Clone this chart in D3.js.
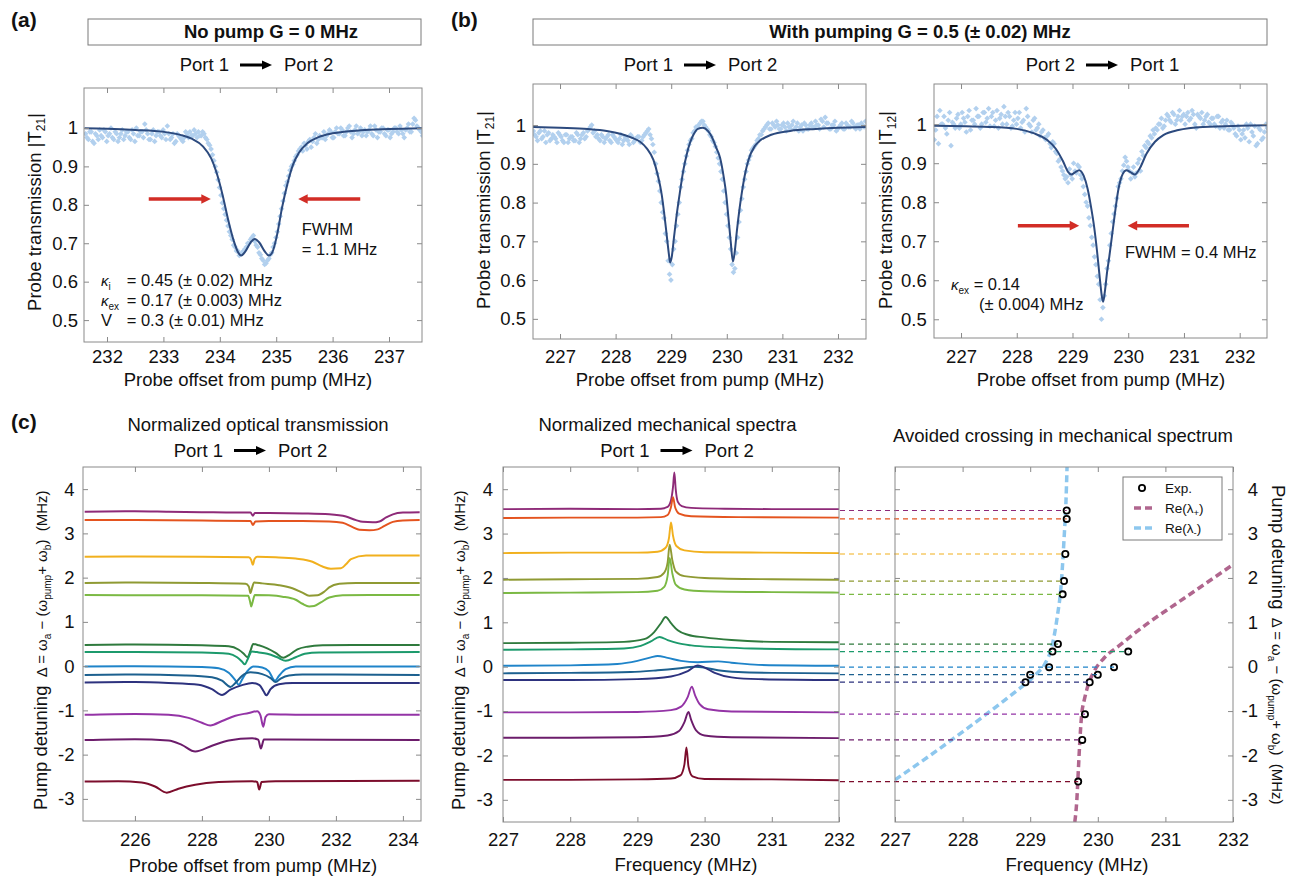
<!DOCTYPE html>
<html><head><meta charset="utf-8">
<script src="https://cdn.jsdelivr.net/npm/d3@7"></script>
<style>body{margin:0;background:#fff}</style>
</head><body><svg id="c" width="1305" height="878" style="background:#fff"></svg>
<script>
// ---------------- DATA ----------------
// (a) no pump
const fitAX = [231.6,232.0,232.5,233.0,233.3,233.5,233.7,233.85,233.95,234.05,234.15,234.25,234.33,234.38,234.45,234.55,234.62,234.70,234.80,234.87,234.93,235.02,235.10,235.20,235.30,235.40,235.55,235.75,236.0,236.5,237.0,237.6];
const fitAY = [0.999,0.998,0.995,0.99,0.982,0.972,0.952,0.92,0.88,0.825,0.76,0.705,0.675,0.668,0.678,0.703,0.711,0.702,0.678,0.668,0.676,0.725,0.79,0.855,0.905,0.935,0.96,0.976,0.986,0.994,0.997,0.999];
const scatStep = 0.05;
const scatAStart = 231.62, scatAStart2 = 231.645;
const scatAY = [0.985,0.97,0.99,0.96,0.98,0.995,0.975,0.99,0.98,1.0,
 0.97,0.985,0.975,0.995,0.98,0.99,0.97,0.985,1.0,0.98,
 0.99,1.01,0.985,0.97,0.995,0.98,0.99,0.975,0.985,1.005,
 0.97,0.985,0.965,0.98,0.97,0.975,0.985,0.99,0.98,0.985,
 0.99,0.98,0.985,0.97,0.955,0.93,0.90,0.865,0.825,0.79,
 0.76,0.73,0.71,0.69,0.68,0.672,0.68,0.69,0.70,0.715,
 0.705,0.69,0.67,0.655,0.648,0.66,0.675,0.70,0.73,0.77,
 0.81,0.85,0.875,0.90,0.915,0.93,0.945,0.94,0.955,0.965,
 0.95,0.975,0.96,0.98,0.975,0.97,0.985,0.99,0.975,1.0,
 0.985,0.995,0.98,1.0,0.99,0.985,1.005,0.99,0.98,0.995,
 0.99,1.005,0.98,0.995,0.99,1.0,0.985,0.995,0.975,0.99,
 1.0,0.985,0.995,0.975,1.0,0.99,1.01,1.02,1.0,0.99];
const scatAY2 = [0.975,0.99,0.965,0.985,0.97,0.98,0.995,0.965,0.985,0.975,
 0.99,0.965,0.985,0.97,0.99,0.975,0.995,0.965,0.98,0.99,
 0.975,0.995,0.97,0.985,0.965,0.99,0.98,0.995,0.97,0.985,
 0.975,0.96,0.985,0.975,0.965,0.99,0.975,0.98,0.995,0.975,
 0.98,0.99,0.975,0.96,0.945,0.915,0.885,0.845,0.805,0.775,
 0.745,0.72,0.695,0.68,0.668,0.675,0.685,0.70,0.71,0.72,
 0.695,0.675,0.66,0.645,0.655,0.67,0.69,0.715,0.75,0.79,
 0.83,0.86,0.89,0.905,0.925,0.94,0.95,0.96,0.945,0.97,
 0.965,0.985,0.97,0.975,0.99,0.98,0.995,0.975,0.99,0.985,
 1.0,0.98,0.99,1.005,0.975,0.995,0.985,1.0,0.99,0.98,
 0.995,0.985,1.005,0.975,0.99,1.0,0.98,0.995,0.985,1.0,
 0.99,1.005,0.985,0.995,1.01,0.99,1.025,1.005,0.995,0.98];
const arrowsA = [[232.74,233.84,0.815],[236.49,235.39,0.815]];

// (b) with pumping, Port1->Port2
const fitB1X = [226.5,227.0,227.5,227.84,228.1,228.3,228.44,228.56,228.68,228.76,228.83,228.88,228.92,228.96,228.98,229.01,229.05,229.1,229.16,229.22,229.28,229.34,229.40,229.48,229.57,229.66,229.73,229.8,229.88,229.94,229.99,230.03,230.07,230.11,230.14,230.18,230.23,230.27,230.33,230.39,230.5,230.6,230.8,231.14,231.6,232.0,232.5];
const fitB1Y = [0.995,0.993,0.99,0.985,0.977,0.967,0.957,0.94,0.91,0.87,0.82,0.765,0.715,0.665,0.645,0.66,0.71,0.77,0.83,0.885,0.925,0.955,0.975,0.99,0.993,0.985,0.97,0.945,0.915,0.87,0.82,0.76,0.70,0.648,0.67,0.725,0.785,0.825,0.875,0.91,0.945,0.96,0.975,0.985,0.99,0.993,0.995];
const scatBStart = 226.52, scatBStart2 = 226.545;
const scatB1Y = [0.985,0.97,0.98,0.965,0.985,0.975,0.96,0.975,0.965,0.98,
 0.97,0.955,0.975,0.965,0.97,0.96,0.975,0.965,0.98,0.97,
 0.99,1.0,0.985,0.975,0.96,0.97,0.965,0.975,0.955,0.97,
 0.96,0.965,0.95,0.97,0.96,0.975,0.955,0.965,0.97,0.96,
 0.975,0.985,0.975,0.95,0.90,0.855,0.80,0.76,0.70,0.615,
 0.64,0.70,0.77,0.84,0.88,0.92,0.95,0.965,0.985,0.995,
 1.005,1.01,0.995,0.985,0.97,0.955,0.93,0.90,0.86,0.80,
 0.74,0.68,0.62,0.67,0.75,0.81,0.86,0.90,0.92,0.94,
 0.95,0.965,0.975,0.99,1.0,0.99,1.005,0.995,1.0,0.99,
 1.005,0.985,0.995,1.0,0.99,1.005,0.995,0.985,1.0,0.99,
 1.005,0.995,1.0,0.99,1.01,1.02,1.005,0.99,1.0,0.985,
 0.995,1.005,0.99,1.0,0.995,1.005,0.99,1.0,1.005,0.995];
const scatB1Y2 = [0.975,0.96,0.985,0.97,0.955,0.98,0.965,0.97,0.955,0.975,
 0.96,0.975,0.955,0.97,0.96,0.98,0.955,0.975,0.965,0.985,
 0.995,0.98,0.97,0.965,0.975,0.955,0.97,0.96,0.975,0.965,
 0.955,0.975,0.96,0.965,0.95,0.97,0.96,0.97,0.955,0.97,
 0.98,0.99,0.965,0.93,0.875,0.83,0.775,0.72,0.65,0.60,
 0.68,0.74,0.80,0.86,0.90,0.935,0.96,0.98,0.995,1.0,
 1.01,1.0,0.99,0.975,0.96,0.945,0.915,0.88,0.83,0.77,
 0.71,0.64,0.63,0.71,0.78,0.84,0.88,0.91,0.935,0.945,
 0.96,0.975,0.985,0.995,1.005,0.99,1.0,1.01,0.99,1.0,
 0.995,1.005,0.99,1.01,0.995,0.985,1.0,1.005,0.99,1.0,
 0.995,1.01,1.0,1.015,0.995,1.005,0.99,1.0,1.01,0.99,
 1.0,0.99,1.005,0.995,1.01,0.995,1.0,0.99,1.0,1.01];

// (b) with pumping, Port2->Port1
const fitB2X = [226.5,227.5,228.0,228.3,228.54,228.7,228.83,228.92,228.98,229.04,229.12,229.2,229.27,229.33,229.39,229.44,229.49,229.53,229.55,229.58,229.62,229.66,229.71,229.76,229.82,229.9,229.97,230.04,230.12,230.2,230.33,230.48,230.63,230.9,231.35,232.0,232.5];
const fitB2Y = [0.996,0.993,0.988,0.977,0.96,0.937,0.905,0.878,0.871,0.876,0.882,0.868,0.835,0.79,0.735,0.675,0.605,0.556,0.545,0.57,0.62,0.66,0.715,0.77,0.83,0.872,0.882,0.877,0.871,0.885,0.925,0.955,0.972,0.985,0.993,0.996,0.997];
const scatB2Y = [0.96,1.02,1.035,1.0,0.99,1.01,0.945,1.0,1.015,0.99,
 1.03,1.005,1.02,0.985,1.01,1.04,1.02,1.0,1.03,1.015,
 0.995,1.03,1.01,0.99,1.025,1.045,1.0,1.02,0.995,1.03,
 1.015,0.99,1.01,1.04,1.0,0.98,1.015,0.99,0.97,0.985,
 0.96,0.975,0.94,0.95,0.925,0.91,0.88,0.86,0.85,0.87,
 0.90,0.875,0.89,0.86,0.82,0.79,0.74,0.69,0.64,0.59,
 0.50,0.56,0.63,0.69,0.75,0.79,0.84,0.86,0.895,0.905,
 0.88,0.875,0.865,0.90,0.88,0.92,0.94,0.95,0.965,0.975,
 0.985,1.0,0.99,1.01,1.02,1.005,1.025,1.01,1.035,1.02,
 1.0,1.03,1.015,1.025,0.99,1.02,1.03,1.01,1.025,1.0,
 1.015,0.995,1.02,1.005,0.99,1.01,0.985,1.0,0.975,0.995,
 0.96,0.985,1.0,0.955,0.98,0.995,0.95,0.985,0.965,1.0];
const scatB2Y2 = [0.985,0.95,1.0,1.02,0.975,1.03,1.005,0.99,1.025,1.0,
 1.015,0.98,1.035,1.01,1.0,1.02,0.99,1.03,1.005,1.04,
 1.02,0.995,1.035,1.015,1.0,1.02,1.03,0.99,1.01,1.0,
 1.03,1.005,0.98,1.02,0.995,1.01,0.985,1.0,0.98,0.965,
 0.97,0.95,0.955,0.93,0.905,0.89,0.87,0.865,0.885,0.86,
 0.88,0.895,0.87,0.84,0.80,0.76,0.71,0.66,0.61,0.55,
 0.53,0.59,0.65,0.72,0.77,0.81,0.85,0.88,0.915,0.89,
 0.86,0.89,0.875,0.91,0.93,0.945,0.955,0.97,0.985,0.99,
 1.0,1.015,0.995,1.025,1.01,1.03,1.0,1.02,1.01,1.025,
 1.02,1.01,1.035,1.0,1.025,1.015,1.0,1.02,1.005,1.015,
 1.0,1.02,0.99,1.01,1.0,0.985,1.005,0.99,0.97,0.985,
 0.975,0.965,0.99,1.0,0.97,0.945,0.99,0.96,0.98,0.99];
const arrowsB2 = [[228.02,229.12,0.74],[231.09,229.99,0.74]];

// (c) traces, one colour per pump detuning (top to bottom)
const traceColors = ['#8e2a78','#e4541f','#f1b01d','#8f9a33','#7bb944','#2f7a3d','#1c9a6c','#1f84c9','#1c608f','#2d327e','#9434a6','#6c1c6b','#7c0d2c'];
const opticalTraces = [
 [[224.5,3.49],[226,3.50],[227,3.49],[228,3.48],[229,3.47],[229.45,3.47],[229.52,3.40],[229.58,3.46],[230,3.46],[231,3.45],[231.8,3.43],[232.3,3.38],[232.6,3.30],[232.8,3.26],[233.1,3.25],[233.3,3.27],[233.5,3.36],[233.7,3.43],[234,3.47],[234.5,3.48]],
 [[224.5,3.30],[226,3.30],[228,3.29],[229.45,3.28],[229.52,3.19],[229.6,3.27],[230,3.28],[231,3.28],[231.8,3.27],[232.2,3.24],[232.5,3.14],[232.7,3.08],[233.0,3.07],[233.25,3.09],[233.45,3.17],[233.7,3.26],[234.0,3.29],[234.5,3.30]],
 [[224.5,2.47],[226,2.48],[228,2.47],[229.4,2.46],[229.47,2.40],[229.52,2.29],[229.57,2.42],[229.65,2.47],[230.2,2.46],[230.8,2.43],[231.3,2.36],[231.6,2.25],[231.85,2.20],[232.15,2.21],[232.3,2.30],[232.45,2.42],[232.9,2.50],[234.5,2.50]],
 [[224.5,1.88],[226,1.89],[228,1.88],[229.3,1.86],[229.4,1.80],[229.45,1.65],[229.5,1.78],[229.56,1.89],[229.8,1.87],[230.3,1.83],[230.7,1.76],[231.0,1.66],[231.2,1.59],[231.45,1.60],[231.65,1.68],[231.8,1.78],[232.1,1.86],[232.6,1.88],[234.5,1.88]],
 [[224.5,1.61],[226,1.60],[228,1.60],[229.38,1.59],[229.44,1.45],[229.47,1.35],[229.52,1.47],[229.58,1.61],[230,1.60],[230.4,1.57],[230.8,1.50],[231.0,1.41],[231.2,1.35],[231.35,1.36],[231.55,1.44],[231.8,1.55],[232.2,1.60],[233,1.61],[234.5,1.61]],
 [[224.5,0.48],[226,0.49],[228,0.47],[228.8,0.45],[229.1,0.37],[229.25,0.28],[229.36,0.20],[229.45,0.35],[229.53,0.50],[229.7,0.47],[229.95,0.40],[230.2,0.30],[230.43,0.19],[230.6,0.25],[230.85,0.38],[231.15,0.44],[231.6,0.47],[232.5,0.48],[234.5,0.48]],
 [[224.5,0.32],[226,0.32],[228,0.31],[228.8,0.28],[229.05,0.20],[229.2,0.10],[229.28,0.04],[229.38,0.18],[229.49,0.33],[229.7,0.31],[229.95,0.28],[230.25,0.20],[230.5,0.12],[230.8,0.20],[231.07,0.28],[231.5,0.31],[234.5,0.32]],
 [[224.5,-0.01],[226,0.0],[228,-0.02],[228.5,-0.05],[228.8,-0.15],[229.0,-0.32],[229.1,-0.42],[229.2,-0.30],[229.35,-0.12],[229.55,-0.01],[229.8,-0.03],[230.0,-0.12],[230.18,-0.33],[230.3,-0.22],[230.5,-0.07],[230.8,-0.01],[234.5,-0.01]],
 [[224.5,-0.20],[226,-0.19],[227.5,-0.21],[228.3,-0.25],[228.6,-0.33],[228.85,-0.47],[229.0,-0.38],[229.2,-0.22],[229.45,-0.14],[229.8,-0.18],[230.05,-0.27],[230.2,-0.36],[230.35,-0.28],[230.6,-0.21],[231,-0.19],[234.5,-0.20]],
 [[224.5,-0.37],[226,-0.36],[227,-0.38],[227.9,-0.42],[228.3,-0.52],[228.6,-0.65],[228.85,-0.53],[229.2,-0.43],[229.5,-0.38],[229.72,-0.43],[229.85,-0.58],[229.92,-0.66],[230.05,-0.52],[230.3,-0.41],[230.7,-0.38],[234.5,-0.38]],
 [[224.5,-1.10],[226,-1.08],[227,-1.10],[227.6,-1.17],[228.0,-1.28],[228.25,-1.34],[228.6,-1.24],[229.0,-1.12],[229.4,-1.06],[229.65,-1.02],[229.75,-1.12],[229.83,-1.37],[229.9,-1.15],[230.0,-1.09],[231,-1.10],[234.5,-1.10]],
 [[224.5,-1.67],[226,-1.65],[227,-1.68],[227.4,-1.78],[227.8,-1.93],[228.3,-1.80],[228.8,-1.68],[229.5,-1.63],[229.68,-1.66],[229.76,-1.86],[229.85,-1.66],[230.2,-1.66],[234.5,-1.67]],
 [[224.5,-2.61],[225.5,-2.60],[226.2,-2.63],[226.6,-2.72],[226.95,-2.86],[227.3,-2.77],[227.8,-2.68],[228.5,-2.62],[229.5,-2.60],[229.65,-2.62],[229.71,-2.79],[229.78,-2.62],[230.2,-2.60],[234.5,-2.59]]
];
const mechTraces = [
 [[227,3.55],[228,3.56],[229,3.55],[229.35,3.56],[229.45,3.6],[229.5,3.75],[229.53,4.05],[229.55,4.38],[229.57,4.0],[229.6,3.72],[229.66,3.62],[229.8,3.58],[230.3,3.56],[231,3.55],[232,3.55]],
 [[227,3.35],[228,3.36],[229,3.36],[229.35,3.37],[229.45,3.42],[229.5,3.6],[229.53,3.82],[229.56,3.6],[229.62,3.45],[229.8,3.39],[230.5,3.37],[232,3.36]],
 [[227,2.56],[228,2.57],[229,2.57],[229.3,2.59],[229.42,2.68],[229.47,2.9],[229.5,3.25],[229.53,2.95],[229.58,2.72],[229.7,2.62],[230,2.58],[231,2.57],[232,2.56]],
 [[227,1.96],[228,1.97],[229,1.98],[229.3,2.02],[229.4,2.12],[229.45,2.35],[229.48,2.75],[229.52,2.4],[229.57,2.15],[229.7,2.04],[230,2.0],[231,1.97],[232,1.96]],
 [[227,1.66],[228,1.67],[229,1.68],[229.3,1.71],[229.4,1.8],[229.45,2.05],[229.48,2.45],[229.52,2.1],[229.57,1.85],[229.7,1.74],[230,1.7],[231,1.68],[232,1.67]],
 [[227,0.53],[228,0.54],[228.8,0.56],[229.1,0.62],[229.25,0.78],[229.35,0.98],[229.42,1.12],[229.5,0.98],[229.6,0.82],[229.75,0.72],[230.0,0.66],[230.4,0.6],[231,0.56],[232,0.55]],
 [[227,0.38],[228,0.39],[228.8,0.41],[229.05,0.47],[229.2,0.57],[229.33,0.67],[229.45,0.6],[229.6,0.53],[229.8,0.48],[230.2,0.44],[230.7,0.41],[232,0.39]],
 [[227,0.02],[228,0.03],[228.7,0.06],[229.0,0.13],[229.2,0.21],[229.3,0.24],[229.45,0.2],[229.65,0.13],[229.9,0.1],[230.2,0.12],[230.4,0.09],[230.8,0.04],[232,0.02]],
 [[227,-0.15],[228,-0.14],[228.9,-0.12],[229.3,-0.08],[229.6,-0.04],[229.85,0.0],[230.0,-0.02],[230.2,-0.08],[230.5,-0.12],[231,-0.14],[232,-0.15]],
 [[227,-0.30],[228,-0.30],[229,-0.28],[229.5,-0.22],[229.75,-0.1],[229.9,0.03],[230.0,-0.02],[230.15,-0.14],[230.4,-0.24],[230.8,-0.28],[232,-0.30]],
 [[227,-1.03],[228,-1.03],[229,-1.02],[229.5,-0.98],[229.65,-0.9],[229.75,-0.68],[229.81,-0.45],[229.86,-0.65],[229.93,-0.85],[230.05,-0.96],[230.4,-1.01],[232,-1.03]],
 [[227,-1.60],[228,-1.60],[229,-1.59],[229.45,-1.55],[229.62,-1.45],[229.7,-1.25],[229.76,-1.02],[229.8,-1.2],[229.87,-1.43],[230,-1.55],[230.4,-1.59],[232,-1.61]],
 [[227,-2.55],[228,-2.55],[229,-2.54],[229.5,-2.52],[229.64,-2.45],[229.7,-2.2],[229.73,-1.82],[229.76,-2.25],[229.82,-2.47],[230,-2.53],[231,-2.54],[232,-2.56]]
];
// avoided crossing: experimental peaks
const expDelta    = [3.52,3.33,2.54,1.93,1.63,0.51,0.34,-0.01,-0.18,-0.35,-1.07,-1.65,-2.59];
const expFreqLow  = [229.54,229.54,229.52,229.50,229.48,229.41,229.33,229.28,229.00,228.93,229.81,229.77,229.71];
const expFreqHigh = [null,null,null,null,null,null,230.45,230.24,230.00,229.88,null,null,null];
const lamPlusF  = [229.66,229.69,229.71,229.73,229.76,229.80,229.84,229.94,230.09,230.33,230.67,231.17,231.6,232.0];
const lamPlusD  = [-3.5,-3.0,-2.4,-1.8,-1.1,-0.75,-0.5,-0.12,0.19,0.49,0.90,1.43,1.88,2.3];
const lamMinusF = [227.0,227.5,228.0,228.36,228.6,228.9,229.1,229.22,229.32,229.40,229.46,229.50,229.53,229.545];
const lamMinusD = [-2.55,-2.02,-1.47,-1.06,-0.78,-0.42,-0.15,0.07,0.45,1.12,1.88,2.86,3.76,4.5];

const ticksA = [232,233,234,235,236,237];
const ticksB = [227,228,229,230,231,232];
const ticksT = [0.5,0.6,0.7,0.8,0.9,1];
const ticksC1 = [226,228,230,232,234];
const ticksC = [227,228,229,230,231,232];
const ticksD = [-3,-2,-1,0,1,2,3,4];

// ---------------- DRAW ----------------
const FONT = '"Liberation Sans", Arial, Helvetica, sans-serif';
const FRAME = '#8a8a8a', TXT = '#111', SCAT = '#b2d0ee', FIT = '#2c4a7e', RED = '#d22d26';
const svg = d3.select('#c');
const defs = svg.append('defs');

function panel(id, xDom, yDom, box) {
  const x = d3.scaleLinear().domain(xDom).range([box.l, box.r]);
  const y = d3.scaleLinear().domain(yDom).range([box.b, box.t]);
  defs.append('clipPath').attr('id', id).append('rect')
    .attr('x', box.l).attr('y', box.t).attr('width', box.r - box.l).attr('height', box.b - box.t);
  const g = svg.append('g').attr('clip-path', `url(#${id})`);
  return {x, y, box, g};
}
function axes(p, xt, yt, o) {
  const {l, r, t, b} = p.box;
  const g = svg.append('g');
  const fmt = d => String(d);
  g.append('g').attr('transform', `translate(0,${b})`)
    .call(d3.axisBottom(p.x).tickValues(xt).tickSize(-5).tickSizeOuter(0).tickPadding(o.xPad).tickFormat(fmt));
  g.append('g').attr('transform', `translate(0,${t})`)
    .call(d3.axisTop(p.x).tickValues(xt).tickSize(-5).tickSizeOuter(0).tickFormat(''));
  g.append('g').attr('transform', `translate(${l},0)`)
    .call(d3.axisLeft(p.y).tickValues(yt).tickSize(-5).tickSizeOuter(0).tickPadding(o.yPad || 6).tickFormat(o.yRight ? '' : fmt));
  const ar = g.append('g').attr('transform', `translate(${r},0)`)
    .call(d3.axisRight(p.y).tickValues(yt).tickSize(-5).tickSizeOuter(0).tickFormat(o.yRight ? fmt : ''));
  g.selectAll('.domain').remove();
  g.selectAll('.tick line').attr('stroke', FRAME);
  g.selectAll('text').attr('font-size', 18.5).attr('font-family', FONT).attr('fill', TXT);
  if (o.yRight) ar.selectAll('text').attr('text-anchor', 'end').attr('x', o.yRightX);
  g.append('rect').attr('x', l).attr('y', t).attr('width', r - l).attr('height', b - t)
    .attr('fill', 'none').attr('stroke', FRAME).attr('stroke-width', 1);
}
function txt(x, y, s, size, opt = {}) {
  return svg.append('text').attr('x', x).attr('y', y).attr('font-size', size)
    .attr('font-family', FONT).attr('fill', opt.fill || TXT)
    .attr('text-anchor', opt.anchor || 'start').attr('font-weight', opt.bold ? 'bold' : null)
    .style('white-space', 'pre').text(s);
}
function rich(x, y, parts, opt = {}) {
  const t = svg.append('text').attr('font-family', FONT).attr('fill', TXT)
    .attr('text-anchor', opt.anchor || 'start').style('white-space', 'pre');
  if (opt.transform) t.attr('transform', opt.transform); else t.attr('x', x).attr('y', y);
  parts.forEach(([s, f, dy, it]) => t.append('tspan').attr('font-size', f).attr('dy', dy || 0)
    .attr('font-style', it ? 'italic' : null).text(s));
  return t;
}
function portLine(cx, y, a, b) {
  txt(cx - 27, y, a, 18.5, {anchor: 'end'});
  txt(cx + 28, y, b, 18.5);
  svg.append('line').attr('x1', cx - 16).attr('x2', cx + 8).attr('y1', y - 6).attr('y2', y - 6)
    .attr('stroke', '#000').attr('stroke-width', 3);
  svg.append('path').attr('d', `M${cx + 6},${y - 10.5}L${cx + 16},${y - 6}L${cx + 6},${y - 1.5}Z`).attr('fill', '#000');
}
function redArrow(p, a) {
  const x1 = p.x(a[0]), x2 = p.x(a[1]), yy = p.y(a[2]);
  const s = Math.sign(x2 - x1);
  svg.append('line').attr('x1', x1).attr('x2', x2 - s * 7).attr('y1', yy).attr('y2', yy)
    .attr('stroke', RED).attr('stroke-width', 3.5);
  svg.append('path').attr('d', `M${x2 - s * 9.5},${yy - 4.8}L${x2},${yy}L${x2 - s * 9.5},${yy + 4.8}Z`).attr('fill', RED);
}
function scatter(p, x0, ys) {
  const sym = d3.symbol(d3.symbolSquare, 16)();
  p.g.append('g').selectAll('path').data(ys).join('path').attr('d', sym)
    .attr('transform', (d, i) => `translate(${p.x(x0 + i * scatStep)},${p.y(d)}) rotate(45)`)
    .attr('fill', SCAT);
}
function fitLine(p, xs, ys) {
  const line = d3.line().x(i => p.x(xs[i])).y(i => p.y(ys[i])).curve(d3.curveMonotoneX);
  p.g.append('path').attr('d', line(d3.range(xs.length))).attr('fill', 'none')
    .attr('stroke', FIT).attr('stroke-width', 2);
}
function transLabel(x, y, sub) {
  rich(0, 0, [['Probe transmission |T', 18.5, 0], [sub, 12, 4], ['|', 18.5, -4]],
    {anchor: 'middle', transform: `translate(${x},${y}) rotate(-90)`});
}
function detuneLabel(tr) {
  rich(0, 0, [['Pump detuning', 18.5, 0], ['  Δ = ω', 15, 0], ['a', 10, 4], [' − (ω', 15, -4],
    ['pump', 10, 4], ['+ ω', 15, -4], ['b', 10, 4], [')  (MHz)', 15, -4]], {transform: tr});
}

// panel labels
txt(11, 27, '(a)', 21, {bold: true});
txt(451, 27, '(b)', 21, {bold: true});
txt(11, 429, '(c)', 21, {bold: true});

// title boxes
svg.append('rect').attr('x', 88).attr('y', 19).attr('width', 333).attr('height', 26).attr('fill', 'none').attr('stroke', '#7a7a7a');
txt(271, 38, 'No pump G = 0 MHz', 18.5, {bold: true, anchor: 'middle'});
svg.append('rect').attr('x', 533).attr('y', 19).attr('width', 734).attr('height', 26).attr('fill', 'none').attr('stroke', '#7a7a7a');
txt(920, 38, 'With pumping G = 0.5 (± 0.02) MHz', 18.5, {bold: true, anchor: 'middle'});

// ---- (a)
const pA = panel('clipA', [231.592, 237.585], [0.443, 1.104], {l: 84, r: 422, t: 88, b: 342});
scatter(pA, scatAStart, scatAY);
scatter(pA, scatAStart2, scatAY2);
fitLine(pA, fitAX, fitAY);
axes(pA, ticksA, ticksT, {xPad: 7.6, yPad: 6});
arrowsA.forEach(a => redArrow(pA, a));
portLine(256, 71, 'Port 1', 'Port 2');
transLabel(40.7, 212, '21');
txt(248, 386, 'Probe offset from pump (MHz)', 18.5, {anchor: 'middle'});
txt(301.7, 235, 'FWHM', 16.5);
txt(301.7, 255, '= 1.1 MHz', 16.5);
rich(101, 286, [['κ', 15, 0, true], ['i', 10, 4]]);
txt(126.7, 286, '= 0.45 (± 0.02) MHz', 16.5);
rich(101, 306, [['κ', 15, 0, true], ['ex', 10, 4]]);
txt(126.7, 306, '= 0.17 (± 0.003) MHz', 16.5);
txt(101, 326, 'V', 16.5);
txt(126.7, 326, '= 0.3 (± 0.01) MHz', 16.5);

// ---- (b) left
const pB1 = panel('clipB1', [226.514, 232.504], [0.448, 1.106], {l: 533, r: 866, t: 84, b: 339});
scatter(pB1, scatBStart, scatB1Y);
scatter(pB1, scatBStart2, scatB1Y2);
fitLine(pB1, fitB1X, fitB1Y);
axes(pB1, ticksB, ticksT, {xPad: 10.6, yPad: 7});
portLine(700, 71, 'Port 1', 'Port 2');
transLabel(490, 210, '21');
txt(700, 386, 'Probe offset from pump (MHz)', 18.5, {anchor: 'middle'});

// ---- (b) right
const pB2 = panel('clipB2', [226.515, 232.49], [0.452, 1.103], {l: 934, r: 1267, t: 84, b: 338});
scatter(pB2, scatBStart, scatB2Y);
scatter(pB2, scatBStart2, scatB2Y2);
fitLine(pB2, fitB2X, fitB2Y);
axes(pB2, ticksB, ticksT, {xPad: 11.6, yPad: 7.3});
arrowsB2.forEach(a => redArrow(pB2, a));
portLine(1102, 71, 'Port 2', 'Port 1');
transLabel(891.7, 210, '12');
txt(1101, 386, 'Probe offset from pump (MHz)', 18.5, {anchor: 'middle'});
txt(1125, 258, 'FWHM = 0.4 MHz', 16.5);
rich(951, 290, [['κ', 15, 0, true], ['ex', 10, 4], [' = 0.14', 16.5, -4]]);
txt(979, 310, '(± 0.004) MHz', 16.5);

// ---- (c) left
const pC1 = panel('clipC1', [224.45, 234.54], [-3.5, 4.5], {l: 83, r: 421, t: 467, b: 821});
const tline = p => d3.line().x(d => p.x(d[0])).y(d => p.y(d[1])).curve(d3.curveMonotoneX);
pC1.g.selectAll('path.tr').data(opticalTraces).join('path').attr('class', 'tr')
  .attr('d', tline(pC1)).attr('fill', 'none').attr('stroke', (d, i) => traceColors[i]).attr('stroke-width', 2);
axes(pC1, ticksC1, ticksD, {xPad: 11.9, yPad: 8.5});
txt(258, 431, 'Normalized optical transmission', 18.5, {anchor: 'middle'});
portLine(250, 456.5, 'Port 1', 'Port 2');
txt(253, 872, 'Probe offset from pump (MHz)', 18.5, {anchor: 'middle'});
detuneLabel('translate(47,810) rotate(-90)');

// ---- (c) middle
const pC2 = panel('clipC2', [227, 232], [-3.5, 4.5], {l: 503, r: 839, t: 467, b: 822});
pC2.g.selectAll('path.tr').data(mechTraces).join('path').attr('class', 'tr')
  .attr('d', tline(pC2)).attr('fill', 'none').attr('stroke', (d, i) => traceColors[i]).attr('stroke-width', 1.9);
axes(pC2, ticksC, ticksD, {xPad: 10.9, yPad: 10});
txt(667.5, 431, 'Normalized mechanical spectra', 18.5, {anchor: 'middle'});
portLine(676.5, 456.5, 'Port 1', 'Port 2');
txt(686, 871, 'Frequency (MHz)', 18.5, {anchor: 'middle'});
detuneLabel('translate(465,810) rotate(-90)');

// ---- (c) right
const pC3 = panel('clipC3', [227, 232], [-3.5, 4.5], {l: 895, r: 1233, t: 467, b: 822});
svg.append('g').selectAll('line').data(expDelta).join('line')
  .attr('x1', pC2.box.r + 1)
  .attr('x2', (d, i) => pC3.x(Math.max(expFreqLow[i], expFreqHigh[i] || 0)))
  .attr('y1', d => pC3.y(d)).attr('y2', d => pC3.y(d))
  .attr('stroke', (d, i) => traceColors[i]).attr('stroke-width', 1.2).attr('stroke-dasharray', '5,4');
const lamLine = (fs, ds) => d3.line().x(i => pC3.x(fs[i])).y(i => pC3.y(ds[i])).curve(d3.curveMonotoneX)(d3.range(fs.length));
pC3.g.append('path').attr('d', lamLine(lamPlusF, lamPlusD)).attr('fill', 'none')
  .attr('stroke', '#b0668e').attr('stroke-width', 3.5).attr('stroke-dasharray', '7,4');
pC3.g.append('path').attr('d', lamLine(lamMinusF, lamMinusD)).attr('fill', 'none')
  .attr('stroke', '#8dc7ee').attr('stroke-width', 3.5).attr('stroke-dasharray', '7,4');
const expPts = [];
expDelta.forEach((d, i) => { expPts.push([expFreqLow[i], d]); if (expFreqHigh[i] != null) expPts.push([expFreqHigh[i], d]); });
pC3.g.selectAll('circle').data(expPts).join('circle')
  .attr('cx', d => pC3.x(d[0])).attr('cy', d => pC3.y(d[1])).attr('r', 3.1)
  .attr('fill', '#fff').attr('stroke', '#000').attr('stroke-width', 1.8);
axes(pC3, ticksC, ticksD, {xPad: 10.9, yRight: true, yRightX: 25});
txt(1063, 442, 'Avoided crossing in mechanical spectrum', 18.5, {anchor: 'middle'});
txt(1077, 871, 'Frequency (MHz)', 18.5, {anchor: 'middle'});
detuneLabel('translate(1272,485) rotate(90)');
// legend
const lg = {l: pC3.box.r - 110, t: pC3.box.t + 10};
svg.append('rect').attr('x', lg.l).attr('y', lg.t).attr('width', 99).attr('height', 63)
  .attr('fill', '#fff').attr('stroke', '#7a7a7a');
svg.append('circle').attr('cx', lg.l + 19).attr('cy', lg.t + 11).attr('r', 3.1).attr('fill', '#fff').attr('stroke', '#000').attr('stroke-width', 1.8);
svg.append('line').attr('x1', lg.l + 11).attr('x2', lg.l + 29).attr('y1', lg.t + 31).attr('y2', lg.t + 31)
  .attr('stroke', '#b0668e').attr('stroke-width', 3.5).attr('stroke-dasharray', '7,4');
svg.append('line').attr('x1', lg.l + 11).attr('x2', lg.l + 29).attr('y1', lg.t + 51).attr('y2', lg.t + 51)
  .attr('stroke', '#8dc7ee').attr('stroke-width', 3.5).attr('stroke-dasharray', '7,4');
txt(lg.l + 42, lg.t + 16, 'Exp.', 13.5);
rich(lg.l + 42, lg.t + 36, [['Re(λ', 13.5, 0], ['+', 9.5, 3], [')', 13.5, -3]]);
rich(lg.l + 42, lg.t + 56, [['Re(λ', 13.5, 0], ['-', 9.5, 3], [')', 13.5, -3]]);
</script></body></html>
